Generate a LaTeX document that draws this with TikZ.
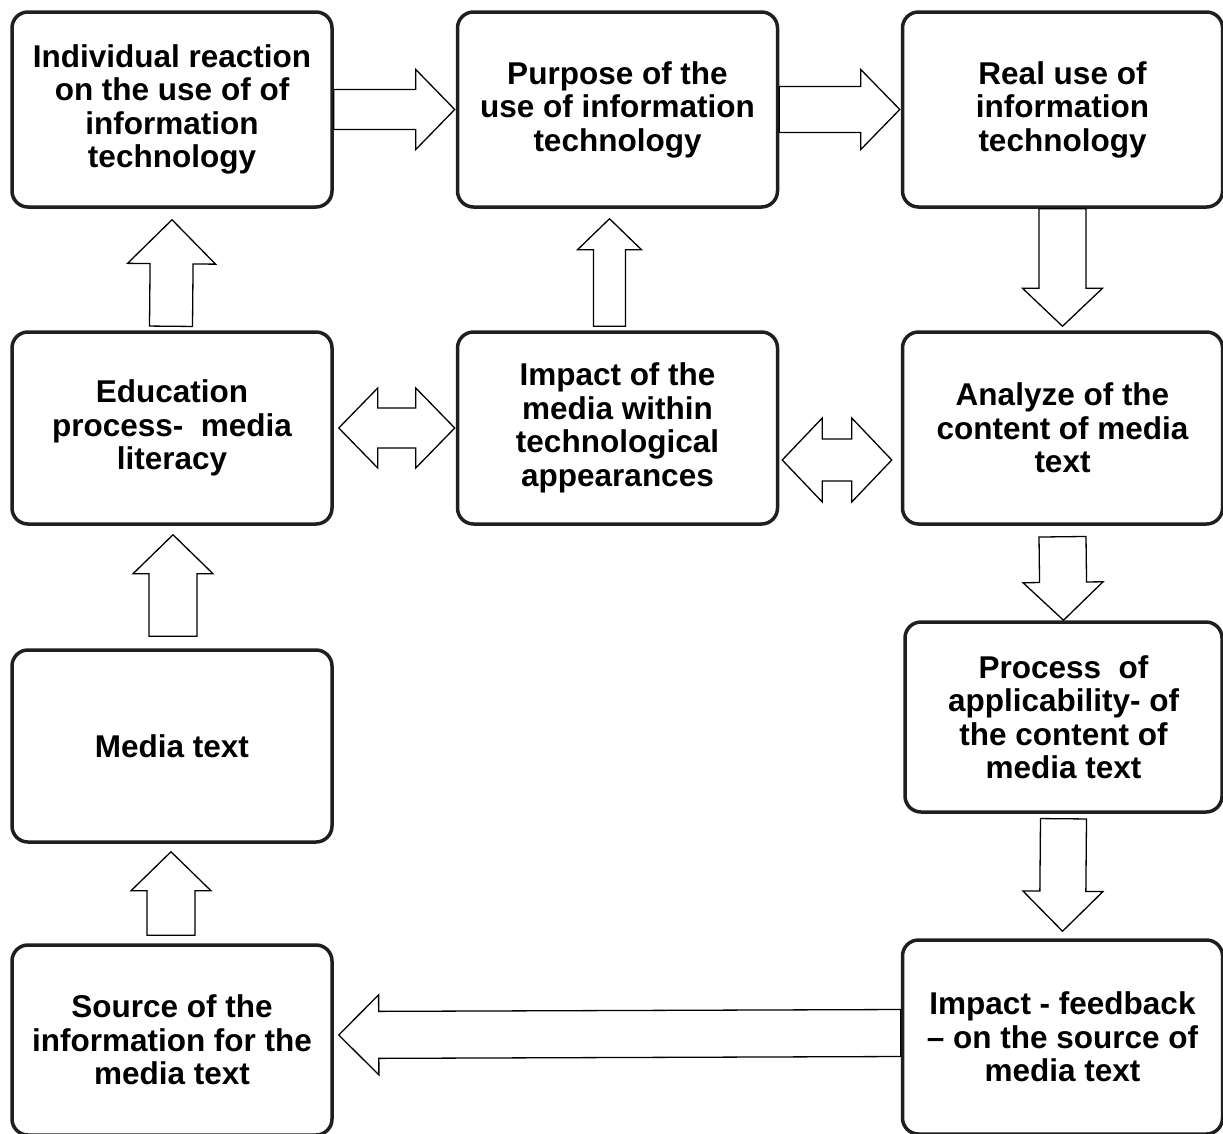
\documentclass[tikz,border=0pt]{standalone}
\usepackage{fontspec}
\setmainfont{Liberation Sans}
\usetikzlibrary{positioning,calc}
\tikzset{
	flow/.style={x=1pt,y=-1pt,line join=miter},
	stage/.style={draw=black!88,line width=3.5pt,rounded corners=16pt,fill=white,
		minimum width=320pt,minimum height=192pt,inner sep=0pt,align=center,
		font=\fontsize{31.5}{33.5}\selectfont\bfseries},
	blockarrow/.style={draw,fill=white,line width=1.3pt,line join=miter}
}
% hollow arrow: start, tip, shaft half width, head half width, head length
\newcommand{\hollowarrow}[5]{%
	\coordinate (ha-s) at #1;
	\coordinate (ha-t) at #2;
	\coordinate (ha-b) at ($(ha-t)!#5!(ha-s)$);
	\draw[blockarrow] ($(ha-s)!#3!90:(ha-t)$) -- ($(ha-b)!#3!90:(ha-t)$) -- ($(ha-b)!#4!90:(ha-t)$)
		-- (ha-t) -- ($(ha-b)!#4!-90:(ha-t)$) -- ($(ha-b)!#3!-90:(ha-t)$) -- ($(ha-s)!#3!-90:(ha-t)$) -- cycle;
}
% hollow double arrow: left tip, right tip, shaft half width, head half width, head length
\newcommand{\hollowboth}[5]{%
	\coordinate (hb-l) at #1;
	\coordinate (hb-r) at #2;
	\coordinate (hb-bl) at ($(hb-l)!#5!(hb-r)$);
	\coordinate (hb-br) at ($(hb-r)!#5!(hb-l)$);
	\draw[blockarrow] (hb-l) -- ($(hb-bl)!#4!90:(hb-r)$) -- ($(hb-bl)!#3!90:(hb-r)$) -- ($(hb-br)!#3!-90:(hb-l)$)
		-- ($(hb-br)!#4!-90:(hb-l)$) -- (hb-r) -- ($(hb-br)!#4!90:(hb-l)$) -- ($(hb-br)!#3!90:(hb-l)$)
		-- ($(hb-bl)!#3!-90:(hb-r)$) -- ($(hb-bl)!#4!-90:(hb-r)$) -- cycle;
}

\begin{document}
\begin{tikzpicture}[flow]
	\useasboundingbox (0,0) rectangle (1223,1133);
	
	\node[stage,minimum height=195pt] (react) at (172,109.5) {Individual reaction\\on the use of of\\information\\technology};
	\node[stage,minimum height=195pt] (purpose) at (617.5,109.5) {Purpose of the\\use of information\\technology};
	\node[stage,minimum height=195pt] (realuse) at (1062.5,109.5) {Real use of\\information\\technology};
	\node[stage] (educ) at (172,428) {Education\\process-~~media\\literacy};
	\node[stage] (impact) at (617.5,428) {Impact of the\\media within\\technological\\appearances};
	\node[stage] (analyze) at (1062.5,428) {Analyze of the\\content of media\\text};
	\node[stage,minimum width=317pt,minimum height=190pt] (applic) at (1063.5,717) {Process~~of\\applicability- of\\the content of\\media text};
	\node[stage] (mtext) at (172,746) {Media text};
	\node[stage,minimum height=190pt] (source) at (172,1040) {Source of the\\information for the\\media text};
	\node[stage,minimum height=194pt] (feedback) at (1062.5,1037) {Impact - feedback\\-- on the source of\\media text};
	
	\hollowarrow{(react.east)}{($(purpose.west)+(-1,0)$)}{20pt}{40pt}{39pt}
	\hollowarrow{(purpose.east)}{($(realuse.west)+(-1,0)$)}{23pt}{40pt}{39pt}
	\hollowarrow{(realuse.south)}{($(analyze.north)+(0,-4)$)}{23.5pt}{40pt}{38pt}
	\hollowarrow{($(impact.north)+(-8,-4)$)}{($(purpose.south)+(-8,10)$)}{16pt}{32pt}{31pt}
	\hollowarrow{($(educ.north)+(-1,-4)$)}{($(react.south)+(0,11)$)}{21.5pt}{44pt}{44pt}
	\hollowarrow{($(analyze.south)+(0,11)$)}{(applic.north)}{23.5pt}{40pt}{38pt}
	\hollowarrow{($(applic.south)+(0,5)$)}{($(feedback.north)+(0,-7)$)}{23pt}{40pt}{40pt}
	\hollowarrow{($(mtext.north)+(1,-12)$)}{($(educ.south)+(1,9)$)}{24pt}{40pt}{39pt}
	\hollowarrow{($(source.north)+(-1,-8)$)}{($(mtext.south)+(-1,8)$)}{24pt}{40pt}{39pt}
	\hollowarrow{($(feedback.west)+(0,-4)$)}{($(source.east)+(5,-5)$)}{23.5pt}{40pt}{40pt}
	
	\hollowboth{($(educ.east)+(5,0)$)}{($(impact.west)+(-1,0)$)}{20pt}{40pt}{39pt}
	\hollowboth{($(impact.east)+(3,32)$)}{($(analyze.west)+(-9,32)$)}{21pt}{42pt}{40pt}
\end{tikzpicture}
\end{document}
